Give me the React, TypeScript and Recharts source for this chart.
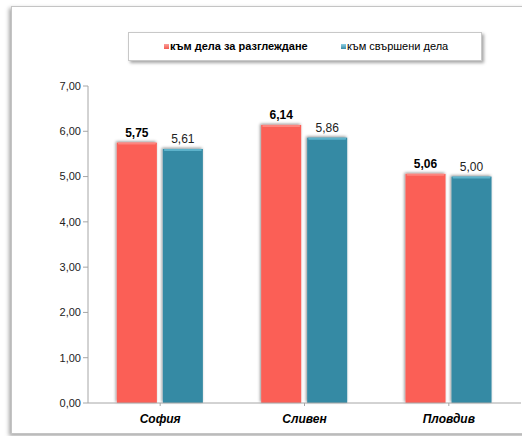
import React from 'react';
import { BarChart, Bar, XAxis, YAxis, LabelList } from 'recharts';

const cities = ['София', 'Сливен', 'Пловдив'];
const pendingCases = [5.75, 6.14, 5.06];
const closedCases = [5.61, 5.86, 5.0];
const yTicks = [0, 1, 2, 3, 4, 5, 6, 7];

const seriesNames = ['към дела за разглеждане', 'към свършени дела'];

const data = cities.map((city, i) => ({
  city,
  pending: pendingCases[i],
  closed: closedCases[i],
}));

const fmt = (v: number) => v.toFixed(2).replace('.', ',');

function ShadowBar(props: any) {
  const { x, y, width, height, fill, light } = props;
  if (!height || height <= 0) return null;
  return (
    <g>
      <rect x={x} y={y} width={width} height={height} fill={fill} filter="url(#barShadow)" />
      <rect x={x + 1} y={y} width={width - 2} height={2} fill={light} opacity={0.7} rx={1} />
    </g>
  );
}

function LegendBox() {
  return (
    <div
      style={{
        position: 'absolute',
        left: 116,
        top: 25,
        width: 352,
        height: 27,
        background: '#fff',
        border: '1px solid #c8c8c8',
        boxShadow: '2px 2px 3px rgba(0,0,0,0.35)',
        fontFamily: '"Liberation Sans", Arial, sans-serif',
        fontSize: 11,
        color: '#000',
      }}
    >
      <div style={{ position: 'absolute', left: 35, top: 7, display: 'flex', alignItems: 'center' }}>
        <span style={{ width: 5, height: 5, background: 'linear-gradient(#f9a09a, #f55a50)', marginRight: 1 }} />
        <b>{seriesNames[0]}</b>
      </div>
      <div style={{ position: 'absolute', left: 212, top: 7, display: 'flex', alignItems: 'center' }}>
        <span style={{ width: 5, height: 5, background: 'linear-gradient(#8fd0e4, #3a8ba6)', marginRight: 1 }} />
        <span>{seriesNames[1]}</span>
      </div>
    </div>
  );
}

export default function App() {
  return (
    <div style={{ position: 'absolute', left: 0, top: 0, width: 522, height: 436, overflow: 'hidden', background: '#fff' }}>
      <div
        style={{
          position: 'absolute',
          left: 11,
          top: 6,
          width: 520,
          height: 426,
          background: '#fff',
          border: '1px solid #c4c4c4',
          boxShadow: '-2px 2px 4px rgba(0,0,0,0.35)',
        }}
      >
        <LegendBox />
        <BarChart
          width={520}
          height={426}
          data={data}
          margin={{ top: 79, right: 11, bottom: 0, left: 0 }}
          barCategoryGap="20%"
          barGap={6}
          style={{ fontFamily: '"Liberation Sans", Arial, sans-serif' }}
        >
          <defs>
            <filter id="barShadow" x="-30%" y="-10%" width="160%" height="120%">
              <feDropShadow dx={-1} dy={-1} stdDeviation={1.6} floodColor="#000" floodOpacity={0.45} />
            </filter>
          </defs>
          <YAxis
            domain={[0, 7]}
            ticks={yTicks}
            tickFormatter={fmt}
            width={76}
            axisLine={{ stroke: '#a6a6a6' }}
            tickLine={{ stroke: '#a6a6a6' }}
            tickSize={5}
            tick={{ fontSize: 11, fill: '#222' }}
          />
          <XAxis
            dataKey="city"
            height={30}
            axisLine={{ stroke: '#a6a6a6' }}
            tickLine={{ stroke: '#a6a6a6' }}
            tickSize={3}
            tick={{ fontSize: 12, fill: '#000', fontWeight: 'bold', fontStyle: 'italic', dy: 6 }}
          />
          <Bar
            dataKey="pending"
            name={seriesNames[0]}
            fill="#fb5f56"
            isAnimationActive={false}
            shape={(p: any) => <ShadowBar {...p} fill="#fb5f56" light="#fd9690" />}
          >
            <LabelList
              dataKey="pending"
              position="top"
              offset={6}
              formatter={(v: any) => fmt(Number(v))}
              style={{ fontSize: 12, fontWeight: 'bold', fill: '#000' }}
            />
          </Bar>
          <Bar
            dataKey="closed"
            name={seriesNames[1]}
            fill="#368aa4"
            isAnimationActive={false}
            shape={(p: any) => <ShadowBar {...p} fill="#368aa4" light="#6fc4dc" />}
          >
            <LabelList
              dataKey="closed"
              position="top"
              offset={6}
              formatter={(v: any) => fmt(Number(v))}
              style={{ fontSize: 12, fill: '#222' }}
            />
          </Bar>
        </BarChart>
      </div>
    </div>
  );
}
